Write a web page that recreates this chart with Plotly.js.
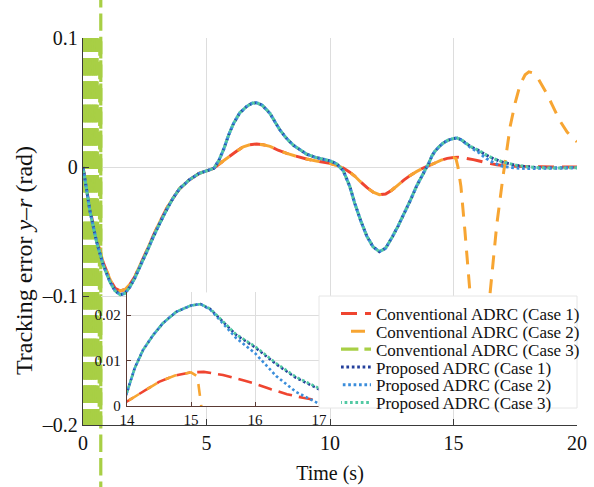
<!DOCTYPE html>
<html><head><meta charset="utf-8">
<script src="https://cdn.plot.ly/plotly-3.0.1.min.js"></script>
<style>html,body{margin:0;padding:0;background:#fff}</style>
</head><body>
<div id="chart" style="width:594px;height:487px"></div>
<script>
// ---------------- data ----------------
var seriesNames = ['Conventional ADRC (Case 1)','Conventional ADRC (Case 2)','Conventional ADRC (Case 3)',
                   'Proposed ADRC (Case 1)','Proposed ADRC (Case 2)','Proposed ADRC (Case 3)'];

var tConv1 = [0,0.1,0.28,0.55,0.82,1.09,1.3,1.5,1.7,1.9,2.1,2.31,2.6,2.85,3.1,3.39,3.65,3.9,4.3,4.7,5.0,5.3,5.5,5.7,5.95,6.2,6.49,6.75,7.03,7.3,7.57,7.9,8.25,8.6,9.05,9.5,10.0,10.27,10.54,10.8,11.0,11.21,11.5,11.75,12.0,12.25,12.5,12.75,13.0,13.25,13.5,13.75,14.0,14.25,14.5,14.75,15.0,15.2,15.5,15.8,16.0,16.25,16.5,16.75,17.0,17.5,18.0,18.5,19.0,19.5,20.0];
var eConv1 = [0,-0.012,-0.033,-0.056,-0.074,-0.087,-0.094,-0.096,-0.095,-0.091,-0.085,-0.076,-0.064,-0.053,-0.043,-0.032,-0.024,-0.017,-0.010,-0.005,-0.003,-0.001,0.002,0.005,0.0085,0.012,0.0157,0.0172,0.0178,0.0172,0.016,0.013,0.0106,0.0085,0.0062,0.0045,0.0029,0.0012,-0.0008,-0.004,-0.007,-0.011,-0.016,-0.0195,-0.0215,-0.021,-0.018,-0.014,-0.010,-0.0065,-0.0036,-0.001,0.001,0.0031,0.0053,0.0067,0.0074,0.0075,0.0068,0.0057,0.0049,0.0037,0.0026,0.0018,0.0012,0.0005,0.0002,0.0001,0,0,0];

var tConv2 = [0,0.1,0.28,0.55,0.82,1.09,1.3,1.5,1.7,1.9,2.1,2.31,2.6,2.85,3.1,3.39,3.65,3.9,4.3,4.7,5.0,5.3,5.5,5.7,5.95,6.2,6.49,6.75,7.03,7.3,7.57,7.9,8.25,8.6,9.05,9.5,10.0,10.27,10.54,10.8,11.0,11.21,11.5,11.75,12.0,12.25,12.5,12.75,13.0,13.25,13.5,13.75,14.0,14.25,14.5,14.75,15.0,15.1,15.18,15.3,15.46,15.67,15.85,16.05,16.25,16.48,16.75,17.0,17.15,17.3,17.5,17.7,17.9,18.05,18.2,18.4,18.77,19.0,19.3,19.6,20.0];
var eConv2 = [0,-0.012,-0.033,-0.056,-0.074,-0.087,-0.094,-0.096,-0.095,-0.091,-0.085,-0.076,-0.064,-0.053,-0.043,-0.032,-0.024,-0.017,-0.010,-0.005,-0.003,-0.001,0.002,0.005,0.0085,0.012,0.0157,0.0172,0.0178,0.0172,0.016,0.013,0.0106,0.0085,0.0062,0.0045,0.0029,0.0012,-0.0008,-0.004,-0.007,-0.011,-0.016,-0.0195,-0.0215,-0.021,-0.018,-0.014,-0.010,-0.0065,-0.0036,-0.001,0.001,0.0031,0.0053,0.0067,0.0074,0.0065,0.0,-0.015,-0.049,-0.098,-0.135,-0.155,-0.142,-0.098,-0.045,-0.008,0.012,0.032,0.050,0.064,0.0715,0.0738,0.073,0.0695,0.057,0.048,0.036,0.027,0.0195];

// Conventional case 3: divergent high-frequency oscillation right after the start
// (drawn as strokes between successive extremes; null = stroke break)
var tConv3 = [0,0.035,null, 0.035,0.07,null, 0.07,0.105,null, 0.105,0.14,null, 0.14,0.175,null, 0.175,0.21,null,
              0.21,0.245,null, 0.245,0.28,null, 0.28,0.315,null, 0.315,0.35,null, 0.35,0.385,null, 0.385,0.42,null,
              0.42,0.455,null, 0.455,0.49,null, 0.49,0.525,null, 0.525,0.56,null, 0.56,0.64,0.72,0.72];
var eConv3 = [0.1389,-0.2192,null, -0.2192,0.1389,null, 0.1389,-0.2192,null, -0.2192,0.1389,null, 0.1389,-0.2192,null, -0.2192,0.1389,null,
              0.1389,-0.2192,null, -0.2192,0.1389,null, 0.1389,-0.2192,null, -0.2192,0.1389,null, 0.1389,-0.2192,null, -0.2192,0.1389,null,
              0.1389,-0.2192,null, -0.2192,0.1389,null, 0.1389,-0.2192,null, -0.2192,0.1389,null, 0.1389,-0.35,0.5,-0.5];

var tProp = [0,0.1,0.28,0.55,0.82,1.09,1.3,1.5,1.7,1.9,2.1,2.31,2.6,2.85,3.1,3.39,3.65,3.9,4.3,4.7,5.0,5.3,5.5,5.7,5.9,6.1,6.35,6.63,6.85,7.03,7.25,7.57,7.97,8.25,8.51,9.05,9.4,9.73,10.0,10.27,10.54,10.8,11.0,11.25,11.5,11.75,12.0,12.25,12.5,12.75,13.0,13.25,13.5,13.75,14.0,14.12,14.25,14.41,14.56,14.77,15.0,15.15,15.3,15.45,15.7,16.0,16.33,16.64,17.0,17.5,18.0,18.5,19.0,19.5,20.0];
var eProp1 = [0,-0.012,-0.034,-0.058,-0.076,-0.089,-0.096,-0.099,-0.098,-0.093,-0.086,-0.077,-0.065,-0.054,-0.044,-0.033,-0.024,-0.017,-0.010,-0.005,-0.003,-0.001,0.005,0.014,0.025,0.034,0.042,0.047,0.0495,0.0498,0.048,0.0416,0.0287,0.022,0.017,0.010,0.0075,0.006,0.0048,0.0025,-0.003,-0.015,-0.028,-0.042,-0.054,-0.062,-0.0656,-0.063,-0.055,-0.046,-0.036,-0.026,-0.015,-0.006,0.003,0.0083,0.0123,0.0156,0.0182,0.0207,0.0221,0.0224,0.0213,0.0192,0.0157,0.0129,0.0092,0.0062,0.0037,0.0014,0.0001,-0.0006,-0.0008,-0.0007,-0.0005];
var eProp2 = [0,-0.012,-0.034,-0.058,-0.076,-0.089,-0.096,-0.099,-0.098,-0.093,-0.086,-0.077,-0.065,-0.054,-0.044,-0.033,-0.024,-0.017,-0.010,-0.005,-0.003,-0.001,0.005,0.014,0.025,0.034,0.042,0.047,0.0495,0.0498,0.048,0.0416,0.0287,0.022,0.017,0.010,0.0075,0.006,0.0048,0.0025,-0.003,-0.015,-0.028,-0.042,-0.054,-0.062,-0.0656,-0.063,-0.055,-0.046,-0.036,-0.026,-0.015,-0.006,0.003,0.0083,0.0123,0.0156,0.0182,0.0207,0.0221,0.0224,0.0212,0.0189,0.0150,0.0116,0.0066,0.0031,0.0005,-0.0008,-0.0012,-0.0010,-0.0008,-0.0006,-0.0004];
var eProp3 = [0,-0.012,-0.034,-0.058,-0.076,-0.089,-0.096,-0.099,-0.098,-0.093,-0.086,-0.077,-0.065,-0.054,-0.044,-0.033,-0.024,-0.017,-0.010,-0.005,-0.003,-0.001,0.005,0.014,0.025,0.034,0.042,0.047,0.0495,0.0498,0.048,0.0416,0.0287,0.022,0.017,0.010,0.0075,0.006,0.0048,0.0025,-0.003,-0.015,-0.028,-0.042,-0.054,-0.062,-0.0656,-0.063,-0.055,-0.046,-0.036,-0.026,-0.015,-0.006,0.003,0.0083,0.0123,0.0156,0.0182,0.0207,0.0221,0.0224,0.0214,0.0193,0.0158,0.0131,0.0094,0.0064,0.0039,0.0015,0.0002,-0.0006,-0.0008,-0.0007,-0.0005];

var xTicks = [0,5,10,15,20];
var yTicks = [-0.2,-0.1,0,0.1];
var yTickText = ['\u20130.2','\u20130.1','0','0.1'];
var insetXTicks = [14,15,16,17];
var insetYTicks = [0,0.01,0.02];
var insetYTickText = ['0','0.01','0.02'];

// ---------------- styling / layout ----------------
var W = 594, H = 487;
var FONT = 'Liberation Serif, Times New Roman, serif';
var colors = ['#ef4530','#f7a532','#a8cf45','#24409c','#3a8ddb','#52c9a3'];
// dash patterns: same period, shifted so overlapping curves interleave
var dashes = ['16px,8px', '0px,10px,14px,0px', '17.4px,6px',
              '2.7px,2.7px', '0px,1.8px,2.7px,0.9px', '0.9px,2.7px,1.8px,0px'];
var insetDashes = ['14px,7px', '0px,9px,12px,0px', '', '2.6px,2.6px', '0px,1.7px,2.6px,0.9px', '0.9px,2.6px,1.7px,0px'];
var widths = [3, 3, 3.2, 3, 3, 3];

// main plot area in pixels
var L = 83, R = 577, T = 38, B = 425;
var yR = [-0.2, 0.1];
var pxPerUnit = (B - T) / (yR[1] - yR[0]);
var mainXDom = [L / W, R / W];
var mainYDom = [(H - B) / H, (H - T) / H];
// inset
var iL = 127, iR = 319, iT = 292.25, iB = 406;
var insetXDom = [iL / W, iR / W];
var insetYDom = [(H - iB) / H, (H - iT) / H];
// full-height band (for the line that runs off the axes)
var fullYRange = [yR[0] - (H - B) / pxPerUnit, yR[1] + T / pxPerUnit];
// legend box + rows
var legL = 319, legR = 577, legT = 296, legB = 408, legRow0 = 314, legRowStep = 17.8, legX = 336;

var tSets = [tConv1, tConv2, tConv3, tProp, tProp, tProp];
var eSets = [eConv1, eConv2, eConv3, eProp1, eProp2, eProp3];

var traces = [];
// off-axes part of case 3's last stroke — drawn first (lowest)
var nG = tConv3.length;
traces.push({x: tConv3.slice(nG - 2), y: eConv3.slice(nG - 2), xaxis: 'x', yaxis: 'y',
  type: 'scatter', mode: 'lines', showlegend: false, hoverinfo: 'skip',
  line: {color: colors[2], width: widths[2], dash: dashes[2], simplify: false}});

var layout = {
  width: W, height: H,
  margin: {l: 0, r: 0, t: 0, b: 0},
  paper_bgcolor: '#ffffff', plot_bgcolor: 'rgba(0,0,0,0)',
  font: {family: FONT, color: '#111', size: 20},
  showlegend: true
};

// main axes traces, each with its own legend row
for (var i = 0; i < 6; i++) {
  var lg = i === 0 ? 'legend' : 'legend' + (i + 1);
  traces.push({x: tSets[i], y: eSets[i], xaxis: 'x2', yaxis: 'y2', name: seriesNames[i], legend: lg,
    type: 'scatter', mode: 'lines', connectgaps: false,
    line: {color: colors[i], width: widths[i], dash: dashes[i], simplify: false}});
  layout[lg] = {x: legX / W, y: (H - (legRow0 + legRowStep * i)) / H, xanchor: 'left', yanchor: 'middle',
    bgcolor: 'rgba(0,0,0,0)', borderwidth: 0, font: {family: FONT, size: 17, color: '#111'}};
}
// inset axes
for (var j = 0; j < 6; j++) {
  if (j === 2) continue;
  traces.push({x: tSets[j], y: eSets[j], xaxis: 'x3', yaxis: 'y3', showlegend: false,
    type: 'scatter', mode: 'lines',
    line: {color: colors[j], width: 2.6, dash: insetDashes[j]}});
}

var axisCol = '#3a3a3a', gridCol = '#dddddd', insetAxisCol = '#5a3a34';
Object.assign(layout, {
  xaxis: {domain: mainXDom, range: [0, 20], visible: false, fixedrange: true, anchor: 'y'},
  yaxis: {domain: [0, 1], range: fullYRange, visible: false, fixedrange: true, anchor: 'x'},
  xaxis2: {domain: mainXDom, range: [0, 20], anchor: 'y2', tickvals: xTicks,
    ticks: 'inside', ticklen: 6, tickcolor: axisCol, showline: true, linecolor: axisCol, linewidth: 1.2,
    showgrid: true, gridcolor: gridCol, gridwidth: 1, zeroline: false,
    tickfont: {family: FONT, size: 20, color: '#111'}, ticklabelstandoff: 0,
    title: {text: 'Time (s)', font: {family: FONT, size: 20, color: '#111'}, standoff: 12}},
  yaxis2: {domain: mainYDom, range: yR, anchor: 'x2', tickvals: yTicks, ticktext: yTickText,
    ticks: 'inside', ticklen: 6, tickcolor: axisCol, showline: true, linecolor: axisCol, linewidth: 1.2,
    showgrid: true, gridcolor: gridCol, gridwidth: 1, zeroline: false,
    tickfont: {family: FONT, size: 20, color: '#111'}, ticklabelstandoff: 0},
  xaxis3: {domain: insetXDom, range: [14, 17], anchor: 'y3', tickvals: insetXTicks,
    ticks: 'inside', ticklen: 4, tickcolor: insetAxisCol, showline: true, linecolor: insetAxisCol, linewidth: 1.2,
    showgrid: true, gridcolor: gridCol, zeroline: false,
    tickfont: {family: FONT, size: 15, color: '#111'}, ticklabelstandoff: 0},
  yaxis3: {domain: insetYDom, range: [0, 0.025], anchor: 'x3', tickvals: insetYTicks, ticktext: insetYTickText,
    ticks: 'inside', ticklen: 4, tickcolor: insetAxisCol, showline: true, linecolor: insetAxisCol, linewidth: 1.2,
    showgrid: true, gridcolor: gridCol, zeroline: false,
    tickfont: {family: FONT, size: 15, color: '#111'}, ticklabelstandoff: 2},
  shapes: [
    {type: 'rect', xref: 'x3', yref: 'y3', x0: 14, x1: 17, y0: 0, y1: 0.025,
      fillcolor: '#ffffff', line: {width: 0}, layer: 'below'},
    {type: 'rect', xref: 'paper', yref: 'paper', x0: legL / W, x1: legR / W, y0: (H - legB) / H, y1: (H - legT) / H,
      fillcolor: '#ffffff', line: {color: '#e6e6e6', width: 1}, layer: 'above'}
  ],
  annotations: [{xref: 'paper', yref: 'paper', x: 24 / W, y: (H - 261) / H, xanchor: 'center', yanchor: 'middle',
    text: 'Tracking error <i>y</i>\u2013<i>r</i> (rad)', textangle: -90, showarrow: false,
    font: {family: FONT, size: 24, color: '#111'}}]
});

Plotly.newPlot('chart', traces, layout, {staticPlot: true, displayModeBar: false});
</script>
</body></html>
